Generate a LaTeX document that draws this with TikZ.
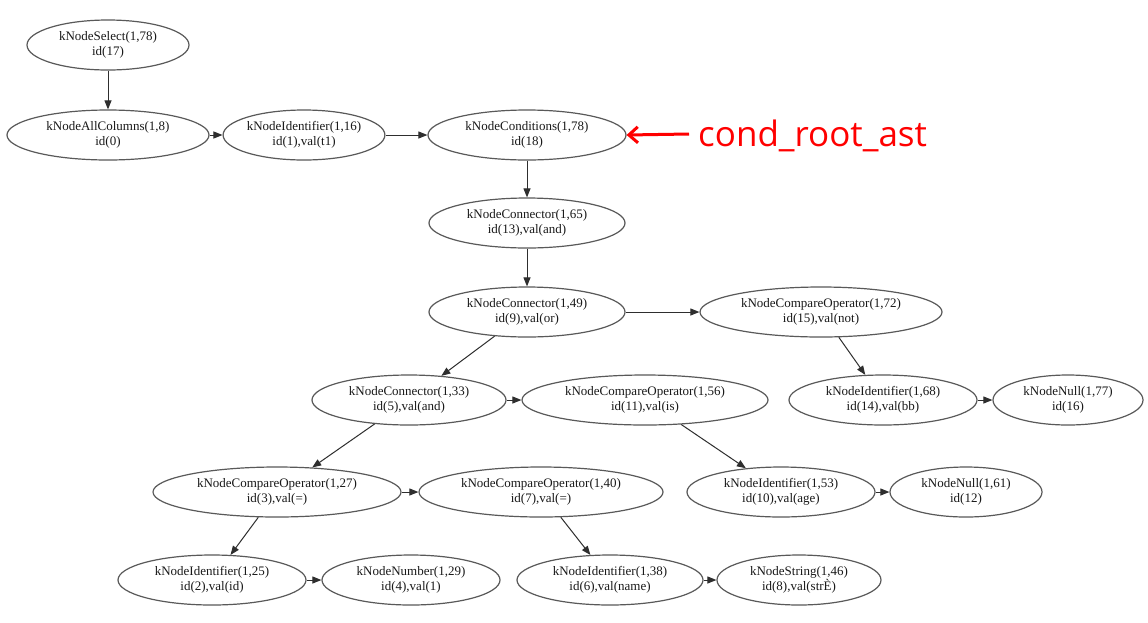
\documentclass[tikz,border=0pt]{standalone}
\usepackage{fontspec}
\setmainfont{Liberation Serif}
\newfontfamily\annfont{Open Sans}
\usetikzlibrary{shapes.geometric,arrows.meta}
\begin{document}
\begin{tikzpicture}[x=1pt,y=-1pt,
  ast/.style={ellipse,draw=black!65,line width=1.2pt,inner sep=0pt,
    minimum height=50pt,align=center,
    font=\fontsize{13}{15}\selectfont,text=black!90},
  edge/.style={-{Triangle[length=9pt,width=7pt]},line width=1pt,draw=black!82},
  note/.style={text=red,inner sep=0pt,anchor=base west,
    font=\annfont\fontsize{35}{35}\selectfont},
  notearrow/.style={draw=red,line width=3pt,-{Straight Barb[length=9pt,width=16pt,line width=3pt]}},
]
\path[fill=white] (0,0) rectangle (1148,622);

\node[ast,minimum width=162pt] (sel) at (108,45) {kNodeSelect(1,78)\\id(17)};
\node[ast,minimum width=202pt] (allc) at (108,135) {kNodeAllColumns(1,8)\\id(0)};
\node[ast,minimum width=156pt] (t1) at (304,135) {kNodeIdentifier(1,16)\\id(1),val(t1)};
\node[ast,minimum width=198pt] (cond) at (527,135) {kNodeConditions(1,78)\\id(18)};
\node[ast,minimum width=196pt] (c65) at (527,223) {kNodeConnector(1,65)\\id(13),val(and)};
\node[ast,minimum width=196pt] (c49) at (527,312) {kNodeConnector(1,49)\\id(9),val(or)};
\node[ast,minimum width=242pt] (co72) at (821,312) {kNodeCompareOperator(1,72)\\id(15),val(not)};
\node[ast,minimum width=194pt] (c33) at (409,400) {kNodeConnector(1,33)\\id(5),val(and)};
\node[ast,minimum width=246pt] (co56) at (645,400) {kNodeCompareOperator(1,56)\\id(11),val(is)};
\node[ast,minimum width=188pt] (id68) at (883,400) {kNodeIdentifier(1,68)\\id(14),val(bb)};
\node[ast,minimum width=150pt] (null77) at (1068,400) {kNodeNull(1,77)\\id(16)};
\node[ast,minimum width=248pt] (co27) at (277,492) {kNodeCompareOperator(1,27)\\id(3),val(=)};
\node[ast,minimum width=244pt] (co40) at (541,492) {kNodeCompareOperator(1,40)\\id(7),val(=)};
\node[ast,minimum width=188pt] (id53) at (781,492) {kNodeIdentifier(1,53)\\id(10),val(age)};
\node[ast,minimum width=152pt] (null61) at (966,492) {kNodeNull(1,61)\\id(12)};
\node[ast,minimum width=188pt] (id25) at (212,580) {kNodeIdentifier(1,25)\\id(2),val(id)};
\node[ast,minimum width=178pt] (num29) at (411,580) {kNodeNumber(1,29)\\id(4),val(1)};
\node[ast,minimum width=186pt] (id38) at (610,580) {kNodeIdentifier(1,38)\\id(6),val(name)};
\node[ast,minimum width=164pt] (str46) at (799,580) {kNodeString(1,46)\\id(8),val(strÈ)};

\draw[edge] (sel) -- (allc);
\draw[edge] (allc) -- (t1);
\draw[edge] (t1) -- (cond);
\draw[edge] (cond) -- (c65);
\draw[edge] (c65) -- (c49);
\draw[edge] (c49) -- (co72);
\draw[edge] (c49) -- (c33);
\draw[edge] (co72) -- (id68);
\draw[edge] (id68) -- (null77);
\draw[edge] (c33) -- (co56);
\draw[edge] (c33) -- (co27);
\draw[edge] (co56) -- (id53);
\draw[edge] (id53) -- (null61);
\draw[edge] (co27) -- (co40);
\draw[edge] (co27) -- (id25);
\draw[edge] (id25) -- (num29);
\draw[edge] (co40) -- (id38);
\draw[edge] (id38) -- (str46);

\node[note] (ann) at (698,146) {cond\_root\_ast};
\coordinate (tail) at (689,134);
\draw[notearrow] (tail) -- (cond.east);
\end{tikzpicture}
\end{document}
